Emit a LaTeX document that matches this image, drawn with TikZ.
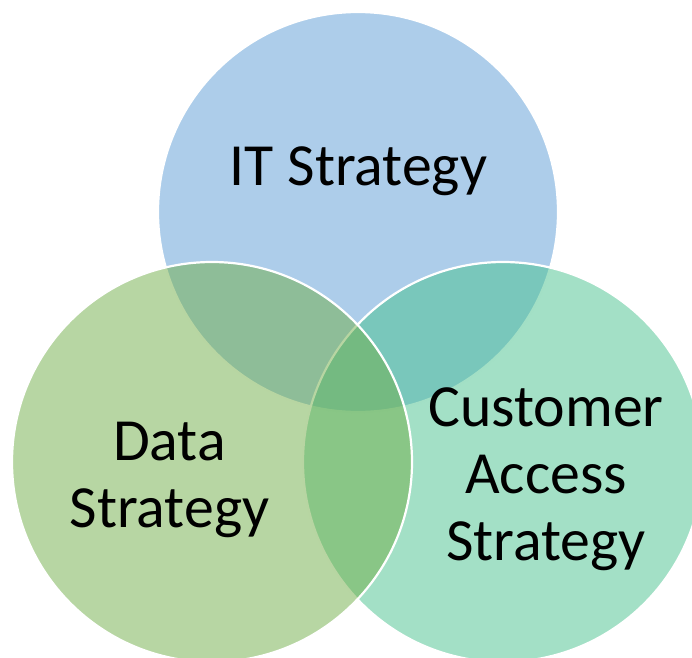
\documentclass[tikz,border=0pt]{standalone}
\usepackage{fontspec}
\setmainfont{Carlito}
\definecolor{vblue}{HTML}{5B9BD5}
\definecolor{vgreen}{HTML}{70AD47}
\definecolor{vteal}{HTML}{47C18D}
\begin{document}
\begin{tikzpicture}[x=1bp,y=-1bp,
  venn/.style={draw=white,line width=2.2bp,fill opacity=0.5,draw opacity=1},
  lbl/.style={inner sep=0pt,align=center,anchor=base,text=black,
    font=\fontsize{60}{67}\selectfont}]
\useasboundingbox (0,0) rectangle (692,658);
\begin{scope}
\clip (0,0) rectangle (692,658);
\path[venn,fill=vblue] (358,212) circle[radius=200];
\path[venn,fill=vteal] (503,462) circle[radius=200];
\path[venn,fill=vgreen] (212,462) circle[radius=200];
\end{scope}
\node[lbl] (it) at (358.5,185) {IT Strategy};
\node[lbl] (data) at (169.5,527) {Data\\Strategy};
\node[lbl] (cust) at (546,560) {Customer\\Access\\Strategy};
\end{tikzpicture}
\end{document}
